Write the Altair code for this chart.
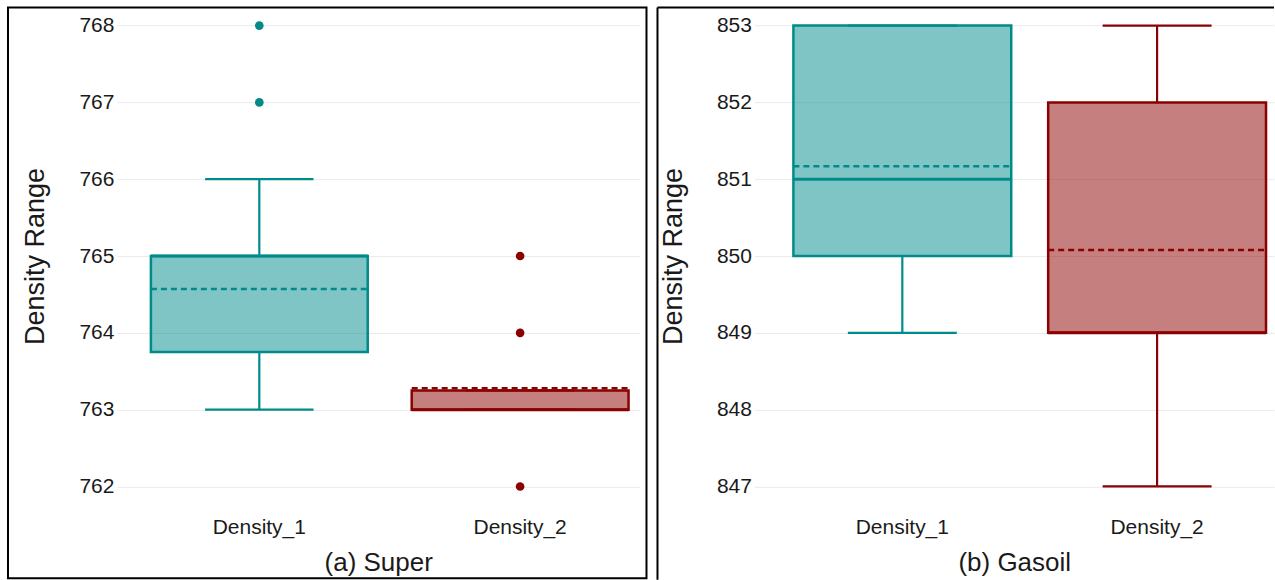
import altair as alt
import pandas as pd

# Box-plot summaries of the density readings for each fuel
categories = ["Density_1", "Density_2"]
colors = ["#008B8B", "#8B0000"]

super_q1 = [763.75, 763.0]
super_q3 = [765.0, 763.25]
super_median = [765.0, 763.0]
super_mean = [764.57, 763.28]
super_lower = [763.0, 763.0]
super_upper = [766.0, 763.25]
super_outlier_group = ["Density_1", "Density_1", "Density_2", "Density_2", "Density_2"]
super_outlier_value = [767, 768, 762, 764, 765]
super_ticks = [762, 763, 764, 765, 766, 767, 768]

gasoil_q1 = [850.0, 849.0]
gasoil_q3 = [853.0, 852.0]
gasoil_median = [851.0, 849.0]
gasoil_mean = [851.17, 850.08]
gasoil_lower = [849.0, 847.0]
gasoil_upper = [853.0, 853.0]
gasoil_outlier_group = []
gasoil_outlier_value = []
gasoil_ticks = [847, 848, 849, 850, 851, 852, 853]

FONT = "Liberation Sans"
TEXT = "#1a1a1a"


def panel(title, q1, q3, med, mean, lo, hi, out_group, out_value, ticks,
          width, pad_inner, pad_outer, align, frame):
    stats = pd.DataFrame({
        "group": categories, "q1": q1, "q3": q3, "median": med,
        "mean": mean, "lo": lo, "hi": hi,
    })
    outliers = pd.DataFrame({"group": out_group, "value": out_value})

    xs = alt.Scale(domain=categories, paddingInner=pad_inner,
                   paddingOuter=pad_outer, align=align)
    ys = alt.Scale(domain=[ticks[0] - 0.2, ticks[-1] + 0.2], nice=False, zero=False)
    col = alt.Color("group:N", scale=alt.Scale(domain=categories, range=colors), legend=None)

    x_axis = alt.Axis(title=title, labelAngle=0, ticks=False, domain=False, grid=False,
                      labelFont=FONT, labelFontSize=21, labelColor=TEXT, labelPadding=15,
                      titleFont=FONT, titleFontSize=26, titleFontWeight="normal",
                      titleColor=TEXT, titlePadding=12)
    y_axis = alt.Axis(title="Density Range", values=ticks, format="d", ticks=False,
                      domain=False, grid=True, gridColor="#EBEBEB", gridWidth=1,
                      labelFont=FONT, labelFontSize=21, labelColor=TEXT, labelPadding=3,
                      titleFont=FONT, titleFontSize=27, titleFontWeight="normal",
                      titleColor=TEXT, titlePadding=29)

    base = alt.Chart(stats)
    box = base.mark_bar(fillOpacity=0.5, strokeWidth=2.5).encode(
        x=alt.X("group:N", scale=xs, axis=x_axis),
        y=alt.Y("q1:Q", scale=ys, axis=y_axis),
        y2="q3:Q",
        color=col,
        stroke=alt.Stroke("group:N", scale=alt.Scale(domain=categories, range=colors), legend=None),
    )
    whisk_hi = base.mark_rule(strokeWidth=2.2).encode(
        x=alt.X("group:N", bandPosition=0.5), y="q3:Q", y2="hi:Q", color=col)
    whisk_lo = base.mark_rule(strokeWidth=2.2).encode(
        x=alt.X("group:N", bandPosition=0.5), y="lo:Q", y2="q1:Q", color=col)
    cap_hi = base.mark_rule(strokeWidth=2.2).encode(
        x=alt.X("group:N", bandPosition=0.25), x2=alt.X2("group", bandPosition=0.75),
        y="hi:Q", color=col)
    cap_lo = base.mark_rule(strokeWidth=2.2).encode(
        x=alt.X("group:N", bandPosition=0.25), x2=alt.X2("group", bandPosition=0.75),
        y="lo:Q", color=col)
    median = base.mark_rule(strokeWidth=3).encode(
        x=alt.X("group:N", bandPosition=0), x2=alt.X2("group", bandPosition=1),
        y="median:Q", color=col)
    mean_line = base.mark_rule(strokeWidth=2.5, strokeDash=[6, 4]).encode(
        x=alt.X("group:N", bandPosition=0), x2=alt.X2("group", bandPosition=1),
        y="mean:Q", color=col)

    layers = [box, whisk_hi, whisk_lo, cap_hi, cap_lo, median, mean_line]
    if len(outliers):
        pts = alt.Chart(outliers).mark_circle(size=75, opacity=1).encode(
            x=alt.X("group:N", bandPosition=0.5), y="value:Q", color=col)
        layers.append(pts)
    layers.extend(frame)
    return alt.layer(*layers).properties(width=width, height=492)


one = pd.DataFrame({"k": [0]})

# Outline around the first sub-figure
frame_a = [
    alt.Chart(one).mark_rect(filled=False, stroke="black", strokeWidth=2).encode(
        x=alt.value(-109), x2=alt.value(530), y=alt.value(-2.6), y2=alt.value(568.4))
]
# Second sub-figure runs off the right edge: only its top and left edges show
frame_b = [
    alt.Chart(one).mark_rule(stroke="black", strokeWidth=2).encode(
        x=alt.value(-97), x2=alt.value(520), y=alt.value(-2.6)),
    alt.Chart(one).mark_rule(stroke="black", strokeWidth=2).encode(
        x=alt.value(-97), y=alt.value(-2.6), y2=alt.value(570)),
]

left = panel("(a) Super", super_q1, super_q3, super_median, super_mean,
             super_lower, super_upper, super_outlier_group, super_outlier_value,
             super_ticks, 523, 0.1686, 0.0862, 0.756, frame_a)
right = panel("(b) Gasoil", gasoil_q1, gasoil_q3, gasoil_median, gasoil_mean,
              gasoil_lower, gasoil_upper, gasoil_outlier_group, gasoil_outlier_value,
              gasoil_ticks, 520, 0.145, 0.0922, 0.83, frame_b)

chart = alt.hconcat(left, right, spacing=9).properties(
    padding={"left": 7, "top": 6, "right": 0, "bottom": 0}
).resolve_scale(
    y="independent", x="independent", color="independent"
).configure(background="white").configure_view(strokeWidth=0)

chart.save("out.html", embed_options={"renderer": "svg", "actions": False})
